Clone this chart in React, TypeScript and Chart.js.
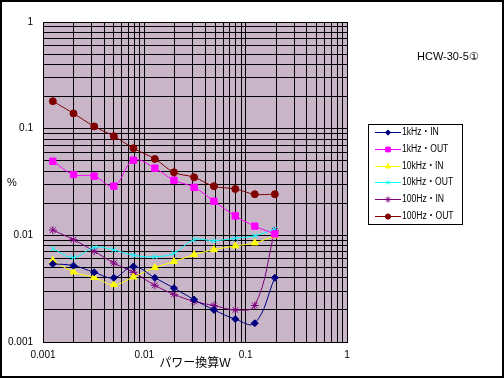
import React, { useEffect, useRef } from 'react';
import { Chart, registerables } from 'chart.js';
import { drawPoint } from 'chart.js/helpers';

Chart.register(...registerables);

// X values: power (W)
const powerW = [0.00125, 0.002, 0.0032, 0.005, 0.0078, 0.0127, 0.0196, 0.031, 0.0486, 0.079, 0.123, 0.194];
// Series values (%)
const kHz1In = [0.0054, 0.0052, 0.0045, 0.0040, 0.0051, 0.0040, 0.0032, 0.0025, 0.0020, 0.00164, 0.0015, 0.0040];
const kHz1Out = [0.0495, 0.0372, 0.0359, 0.0289, 0.0506, 0.0426, 0.0328, 0.0282, 0.0209, 0.0152, 0.0122, 0.0103];
const kHz10In = [0.0058, 0.00454, 0.00402, 0.00345, 0.00407, 0.00498, 0.00567, 0.00659, 0.00734, 0.00796, 0.0085, 0.0099];
const kHz10Out = [0.0075, 0.0062, 0.0077, 0.0073, 0.0065, 0.0063, 0.0068, 0.0091, 0.0089, 0.0094, 0.0099, 0.0114];
const hz100In = [0.0112, 0.0091, 0.0071, 0.0055, 0.0045, 0.0034, 0.0028, 0.0024, 0.0022, 0.0020, 0.0022, 0.0110];
const hz100Out = [0.181, 0.139, 0.105, 0.085, 0.0655, 0.052, 0.039, 0.035, 0.0289, 0.0272, 0.0243, 0.0243];

const seriesNames = ['1kHz・IN', '1kHz・OUT', '10kHz・IN', '10kHz・OUT', '100Hz・IN', '100Hz・OUT'];

// Axis ticks
const decadeValues = [0.001, 0.01, 0.1, 1];
const tickLabels = ['0.001', '0.01', '0.1', '1'];
const minorMultiples = [1, 2, 3, 4, 5, 6, 7, 8, 9];

const chartTitle = 'HCW-30-5①';
const xTitle = 'パワー換算W';
const yTitle = '%';

const FONT = '"Liberation Sans", "DejaVu Sans", "Noto Sans CJK JP", sans-serif';

function gridValues(): number[] {
  const vals: number[] = [];
  for (let d = 0; d < decadeValues.length - 1; d++) {
    for (const m of minorMultiples) vals.push(decadeValues[d] * m);
  }
  vals.push(decadeValues[decadeValues.length - 1]);
  return vals;
}

function labelFor(value: number): string {
  const i = decadeValues.findIndex((d) => Math.abs(d - value) / d < 1e-6);
  return i >= 0 ? tickLabels[i] : '';
}

export default function App() {
  const ref = useRef<HTMLCanvasElement | null>(null);

  useEffect(() => {
    document.body.style.margin = '0';
    const canvas = ref.current;
    if (!canvas) return;

    const mk = (label: string, ys: number[], color: string, pointStyle: string, radius: number) => ({
      label,
      data: powerW.map((x, i) => ({ x, y: ys[i] })),
      borderColor: color,
      backgroundColor: color,
      pointBackgroundColor: color,
      pointBorderColor: color,
      pointStyle,
      pointRadius: radius,
      pointBorderWidth: 1,
      borderWidth: 1,
      tension: 0.4,
      fill: false,
    });

    const datasets = [
      mk(seriesNames[0], kHz1In, '#000080', 'rectRot', 3.5),
      mk(seriesNames[1], kHz1Out, '#ff00ff', 'rect', 4.5),
      mk(seriesNames[2], kHz10In, '#ffff00', 'triangle', 4),
      mk(seriesNames[3], kHz10Out, '#00ffff', 'crossRot', 3.5),
      mk(seriesNames[4], hz100In, '#800080', 'star', 4),
      mk(seriesNames[5], hz100Out, '#800000', 'circle', 3.5),
    ];

    const decor = {
      id: 'decor',
      beforeDraw(chart: any) {
        const { ctx, chartArea } = chart;
        ctx.save();
        ctx.fillStyle = '#ffffff';
        ctx.fillRect(0, 0, chart.width, chart.height);
        ctx.fillStyle = '#c8b6c8';
        ctx.fillRect(chartArea.left, chartArea.top, chartArea.right - chartArea.left, chartArea.bottom - chartArea.top);
        ctx.restore();
      },
      afterDraw(chart: any) {
        const { ctx } = chart;
        ctx.save();
        // outer frame
        ctx.strokeStyle = '#000';
        ctx.lineWidth = 2;
        ctx.strokeRect(1, 1, chart.width - 2, chart.height - 2);

        // title
        ctx.fillStyle = '#000';
        ctx.font = `11px ${FONT}`;
        ctx.textAlign = 'left';
        ctx.textBaseline = 'middle';
        ctx.fillText(chartTitle, 417, 57);

        // axis titles
        ctx.font = `12px ${FONT}`;
        ctx.textAlign = 'center';
        ctx.fillText(xTitle, (chart.chartArea.left + chart.chartArea.right) / 2, 364);
        ctx.font = `11px ${FONT}`;
        ctx.fillText(yTitle, 12, 183);

        // legend
        ctx.lineWidth = 1;
        ctx.strokeStyle = '#000';
        ctx.fillStyle = '#fff';
        ctx.fillRect(368.5, 124.5, 94, 100);
        ctx.strokeRect(368.5, 124.5, 94, 100);
        chart.data.datasets.forEach((ds: any, i: number) => {
          const y = Math.round(132 + i * 16.8) + 0.5;
          ctx.strokeStyle = ds.borderColor;
          ctx.fillStyle = ds.borderColor;
          ctx.lineWidth = 1;
          ctx.beginPath();
          ctx.moveTo(375, y);
          ctx.lineTo(401, y);
          ctx.stroke();
          drawPoint(ctx, { pointStyle: ds.pointStyle, radius: ds.pointRadius * 0.75, rotation: 0, borderWidth: 1 }, 388, y);
          ctx.save();
          ctx.fillStyle = '#000';
          ctx.font = `10px ${FONT}`;
          ctx.textAlign = 'left';
          ctx.textBaseline = 'middle';
          ctx.translate(402, y);
          ctx.scale(0.86, 1);
          ctx.fillText(ds.label, 0, 0);
          ctx.restore();
        });
        ctx.restore();
      },
    };

    const grid = gridValues();
    const tickFont = { family: FONT, size: 10 };

    const chart = new Chart(canvas, {
      type: 'line',
      data: { datasets: datasets as any },
      options: {
        animation: false,
        responsive: false,
        layout: { padding: { left: 0, top: 22, right: 157, bottom: 0 } },
        plugins: { legend: { display: false }, tooltip: { enabled: false } },
        scales: {
          x: {
            type: 'logarithmic',
            min: 0.001,
            max: 1,
            afterBuildTicks: (scale: any) => {
              scale.ticks = grid.map((v) => ({ value: v }));
            },
            afterFit: (scale: any) => {
              scale.height = 36;
            },
            ticks: {
              autoSkip: false,
              maxRotation: 0,
              padding: 7,
              color: '#000',
              font: tickFont,
              callback: (v: any) => labelFor(Number(v)),
            },
            grid: { color: '#000', lineWidth: 1, drawTicks: false },
            border: { color: '#000', width: 1 },
          },
          y: {
            type: 'logarithmic',
            min: 0.001,
            max: 1,
            afterBuildTicks: (scale: any) => {
              scale.ticks = grid.map((v) => ({ value: v }));
            },
            afterFit: (scale: any) => {
              scale.width = 43;
            },
            ticks: {
              autoSkip: false,
              padding: 10,
              color: '#000',
              font: tickFont,
              callback: (v: any) => labelFor(Number(v)),
            },
            grid: { color: '#000', lineWidth: 1, drawTicks: false },
            border: { color: '#000', width: 1 },
          },
        },
      },
      plugins: [decor],
    });

    return () => chart.destroy();
  }, []);

  return (
    <div style={{ position: 'absolute', left: 0, top: 0, width: 504, height: 378 }}>
      <canvas ref={ref} width={504} height={378} style={{ display: 'block' }} />
    </div>
  );
}
